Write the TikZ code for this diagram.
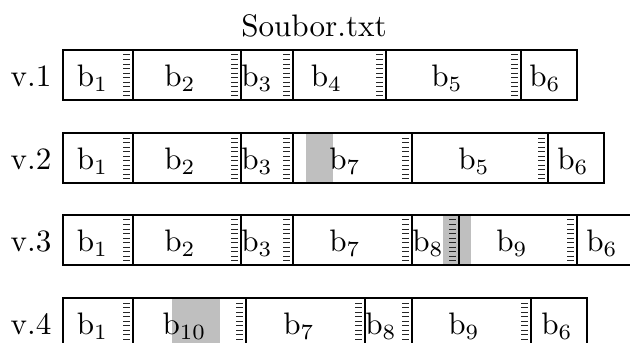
\documentclass[tikz,border=0pt]{standalone}
\usepackage{amsmath}
\usepackage{tikz}

\begin{document}
\begin{tikzpicture}[x=0.113cm, y=-0.113cm,
		ramec/.style={semithick},
		zarazka/.style={line width=2.25pt, dash pattern=on 0.25pt off 1.2pt, black!85},
		vypln/.style={fill=gray!50},
		popis/.style={anchor=base, inner sep=0pt}]
	
	\clip (0,0) rectangle (63,34.3);
	
	% Nadpis
	\node[popis] (nadpis) at (31.4,3.7) {Soubor.txt};
	
	% Verze 1
	\node[popis] (v1) at (3.1,8.65) {v.1};
	\draw[ramec] (6.3,5) rectangle (57.7,10);
	\foreach \x in {13.3,24.1,29.3,38.6,52.1} {
		\draw[ramec] (\x,5) -- (\x,10);
		\draw[zarazka] (\x-0.65,5.45) -- (\x-0.65,9.85);
	}
	\foreach \x/\t in {9.25/1,18/2,25.7/3,32.65/4,44.7/5,54.5/6}
		\node[popis] (v1b\t) at (\x,8.65) {b$_{\t}$};
	
	% Verze 2
	\node[popis] (v2) at (3.1,17.0) {v.2};
	\fill[vypln] (30.6,13.33) rectangle (33.3,18.33);
	\draw[ramec] (6.3,13.33) rectangle (60.4,18.33);
	\foreach \x in {13.3,24.1,29.3,41.2,54.8} {
		\draw[ramec] (\x,13.33) -- (\x,18.33);
		\draw[zarazka] (\x-0.65,13.78) -- (\x-0.65,18.18);
	}
	\foreach \x/\t in {9.25/1,18/2,25.7/3,34.5/7,47.4/5,57.3/6}
		\node[popis] (v2b\t) at (\x,17.0) {b$_{\t}$};
	
	% Verze 3
	\node[popis] (v3) at (3.1,25.2) {v.3};
	\fill[vypln] (44.25,21.5) rectangle (47.1,26.5);
	\draw[ramec] (6.3,21.5) rectangle (63.5,26.5);
	\foreach \x in {13.3,24.1,29.3,41.2,45.9,57.7} {
		\draw[ramec] (\x,21.5) -- (\x,26.5);
		\draw[zarazka] (\x-0.65,21.95) -- (\x-0.65,26.35);
	}
	\foreach \x/\t in {9.25/1,18/2,25.7/3,34.5/7,42.8/8,51.2/9,60.2/6}
		\node[popis] (v3b\t) at (\x,25.2) {b$_{\t}$};
	
	% Verze 4
	\node[popis] (v4) at (3.1,33.5) {v.4};
	\fill[vypln] (17.2,29.83) rectangle (22.0,34.83);
	\draw[ramec] (6.3,29.83) rectangle (58.7,34.83);
	\foreach \x in {13.3,24.6,36.5,41.2,53.1} {
		\draw[ramec] (\x,29.83) -- (\x,34.83);
		\draw[zarazka] (\x-0.65,30.28) -- (\x-0.65,34.68);
	}
	\foreach \x/\t in {9.25/1,18.45/10,29.9/7,38.1/8,46.4/9,55.7/6}
		\node[popis] (v4b\t) at (\x,33.5) {b$_{\t}$};
	
\end{tikzpicture}
\end{document}
